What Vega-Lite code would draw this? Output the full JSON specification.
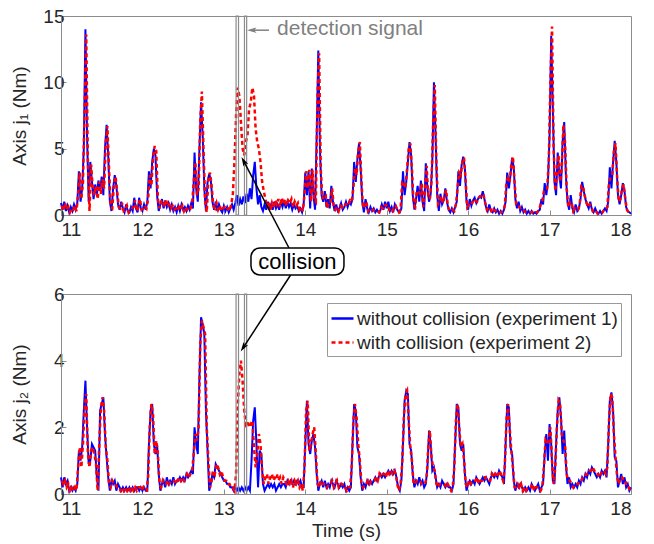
{
"$schema": "https://vega.github.io/schema/vega-lite/v6.json",
"background": "white",
"padding": {"left": 9, "top": 6, "right": 5, "bottom": 5},
"bounds": "flush",
"spacing": 79,
"config": {
  "font": "Liberation Sans",
  "view": {"stroke": "#8c8c8c", "strokeWidth": 1},
  "axis": {"grid": false, "domainColor": "#8c8c8c", "tickColor": "#8c8c8c", "tickSize": -5, "labelFontSize": 19, "labelColor": "#262626", "titleFontSize": 19, "titleFontWeight": "normal", "titleColor": "#262626", "labelFont": "Liberation Sans", "titleFont": "Liberation Sans"},
  "axisX": {"labelPadding": 10, "titlePadding": 3, "format": "d"},
  "axisY": {"labelPadding": 2, "format": "d"}
},
"datasets": {
"j1w": [{"t":11.00,"v":0.9},{"t":11.02,"v":0.4},{"t":11.04,"v":1.0},{"t":11.06,"v":0.3},{"t":11.08,"v":0.7},{"t":11.10,"v":0.2},{"t":11.12,"v":0.6},{"t":11.14,"v":0.3},{"t":11.16,"v":0.8},{"t":11.18,"v":0.4},{"t":11.20,"v":0.9},{"t":11.22,"v":3.3},{"t":11.24,"v":1.0},{"t":11.26,"v":2.0},{"t":11.28,"v":5.0},{"t":11.30,"v":14.0},{"t":11.32,"v":6.0},{"t":11.34,"v":1.0},{"t":11.36,"v":4.0},{"t":11.38,"v":2.5},{"t":11.40,"v":1.2},{"t":11.42,"v":2.3},{"t":11.44,"v":1.5},{"t":11.46,"v":2.6},{"t":11.48,"v":1.8},{"t":11.50,"v":2.9},{"t":11.52,"v":1.5},{"t":11.54,"v":5.0},{"t":11.56,"v":6.8},{"t":11.58,"v":4.5},{"t":11.60,"v":1.0},{"t":11.62,"v":0.3},{"t":11.64,"v":2.0},{"t":11.66,"v":3.0},{"t":11.68,"v":2.2},{"t":11.70,"v":0.8},{"t":11.72,"v":0.4},{"t":11.74,"v":1.0},{"t":11.76,"v":0.5},{"t":11.78,"v":0.2},{"t":11.80,"v":0.8},{"t":11.82,"v":0.3},{"t":11.84,"v":0.2},{"t":11.86,"v":0.6},{"t":11.88,"v":0.3},{"t":11.90,"v":1.3},{"t":11.92,"v":0.5},{"t":11.94,"v":0.2},{"t":11.96,"v":1.3},{"t":11.98,"v":0.5},{"t":12.00,"v":0.3},{"t":12.02,"v":0.8},{"t":12.04,"v":0.4},{"t":12.06,"v":1.0},{"t":12.08,"v":3.3},{"t":12.10,"v":2.0},{"t":12.12,"v":4.0},{"t":12.14,"v":5.0},{"t":12.16,"v":4.5},{"t":12.18,"v":1.5},{"t":12.20,"v":0.3},{"t":12.22,"v":0.8},{"t":12.24,"v":1.2},{"t":12.26,"v":0.5},{"t":12.28,"v":1.1},{"t":12.30,"v":0.6},{"t":12.32,"v":0.9},{"t":12.34,"v":0.4},{"t":12.36,"v":0.8},{"t":12.38,"v":0.3},{"t":12.40,"v":0.6},{"t":12.42,"v":0.2},{"t":12.44,"v":0.7},{"t":12.46,"v":0.3},{"t":12.48,"v":0.8},{"t":12.50,"v":0.4},{"t":12.52,"v":0.6},{"t":12.54,"v":0.3},{"t":12.56,"v":0.7},{"t":12.58,"v":0.4},{"t":12.60,"v":0.9},{"t":12.62,"v":0.5},{"t":12.64,"v":4.7},{"t":12.66,"v":2.0},{"t":12.68,"v":1.0},{"t":12.70,"v":5.0},{"t":12.72,"v":8.5},{"t":12.74,"v":6.0},{"t":12.76,"v":2.0},{"t":12.78,"v":0.3},{"t":12.80,"v":2.5},{"t":12.82,"v":3.1},{"t":12.84,"v":2.6},{"t":12.86,"v":1.0},{"t":12.88,"v":0.4},{"t":12.90,"v":1.0},{"t":12.92,"v":0.3},{"t":12.94,"v":0.8},{"t":12.96,"v":0.4},{"t":12.98,"v":0.2},{"t":13.00,"v":0.7},{"t":13.02,"v":0.3},{"t":13.04,"v":0.6},{"t":13.06,"v":0.2},{"t":13.08,"v":0.5},{"t":13.10,"v":0.8},{"t":13.12,"v":0.4},{"t":13.14,"v":0.9},{"t":13.16,"v":1.5},{"t":13.18,"v":0.7},{"t":13.20,"v":1.2},{"t":13.22,"v":0.8},{"t":13.24,"v":1.4},{"t":13.26,"v":0.9},{"t":13.28,"v":1.6},{"t":13.30,"v":1.0},{"t":13.32,"v":2.0},{"t":13.34,"v":1.2},{"t":13.36,"v":3.0},{"t":13.38,"v":4.0},{"t":13.40,"v":2.0},{"t":13.42,"v":0.8},{"t":13.44,"v":1.5},{"t":13.46,"v":0.6},{"t":13.48,"v":0.3},{"t":13.50,"v":0.8},{"t":13.52,"v":0.4},{"t":13.54,"v":1.0},{"t":13.56,"v":0.5},{"t":13.58,"v":0.8},{"t":13.60,"v":0.4},{"t":13.62,"v":1.0},{"t":13.64,"v":0.5},{"t":13.66,"v":0.8},{"t":13.68,"v":0.4},{"t":13.70,"v":1.0},{"t":13.72,"v":0.6},{"t":13.74,"v":1.1},{"t":13.76,"v":0.5},{"t":13.78,"v":1.0},{"t":13.80,"v":0.6},{"t":13.82,"v":0.9},{"t":13.84,"v":0.4},{"t":13.86,"v":0.8},{"t":13.88,"v":0.5},{"t":13.90,"v":0.7},{"t":13.92,"v":0.3},{"t":13.94,"v":0.5},{"t":13.96,"v":0.2},{"t":13.98,"v":0.8},{"t":14.00,"v":3.2},{"t":14.02,"v":1.5},{"t":14.04,"v":3.3},{"t":14.06,"v":0.5},{"t":14.08,"v":3.5},{"t":14.10,"v":1.5},{"t":14.12,"v":0.4},{"t":14.14,"v":6.0},{"t":14.16,"v":12.4},{"t":14.18,"v":5.0},{"t":14.20,"v":1.5},{"t":14.22,"v":1.0},{"t":14.24,"v":1.8},{"t":14.26,"v":0.6},{"t":14.28,"v":1.2},{"t":14.30,"v":0.5},{"t":14.32,"v":2.2},{"t":14.34,"v":1.0},{"t":14.36,"v":0.3},{"t":14.38,"v":0.8},{"t":14.40,"v":0.3},{"t":14.42,"v":0.5},{"t":14.44,"v":0.9},{"t":14.46,"v":0.4},{"t":14.48,"v":0.6},{"t":14.50,"v":1.0},{"t":14.52,"v":0.6},{"t":14.54,"v":1.0},{"t":14.56,"v":0.8},{"t":14.58,"v":1.2},{"t":14.60,"v":4.0},{"t":14.62,"v":2.5},{"t":14.64,"v":4.2},{"t":14.66,"v":5.4},{"t":14.68,"v":3.5},{"t":14.70,"v":1.0},{"t":14.72,"v":0.2},{"t":14.74,"v":1.2},{"t":14.76,"v":0.5},{"t":14.78,"v":0.2},{"t":14.80,"v":0.6},{"t":14.82,"v":0.3},{"t":14.84,"v":0.5},{"t":14.86,"v":0.2},{"t":14.88,"v":0.4},{"t":14.90,"v":0.2},{"t":14.92,"v":0.3},{"t":14.94,"v":0.8},{"t":14.96,"v":0.4},{"t":14.98,"v":1.0},{"t":15.00,"v":0.5},{"t":15.02,"v":1.0},{"t":15.04,"v":0.3},{"t":15.06,"v":0.6},{"t":15.08,"v":0.2},{"t":15.10,"v":0.8},{"t":15.12,"v":0.5},{"t":15.14,"v":0.3},{"t":15.16,"v":0.2},{"t":15.18,"v":0.5},{"t":15.20,"v":3.3},{"t":15.22,"v":1.5},{"t":15.24,"v":2.5},{"t":15.26,"v":4.0},{"t":15.28,"v":5.5},{"t":15.30,"v":4.5},{"t":15.32,"v":1.5},{"t":15.34,"v":0.4},{"t":15.36,"v":1.2},{"t":15.38,"v":2.2},{"t":15.40,"v":1.0},{"t":15.42,"v":2.6},{"t":15.44,"v":1.0},{"t":15.46,"v":0.3},{"t":15.48,"v":3.9},{"t":15.50,"v":2.0},{"t":15.52,"v":1.0},{"t":15.54,"v":1.6},{"t":15.56,"v":4.0},{"t":15.58,"v":10.0},{"t":15.60,"v":6.0},{"t":15.62,"v":1.5},{"t":15.64,"v":0.3},{"t":15.66,"v":1.6},{"t":15.68,"v":0.8},{"t":15.70,"v":1.1},{"t":15.72,"v":2.0},{"t":15.74,"v":1.0},{"t":15.76,"v":0.4},{"t":15.78,"v":0.2},{"t":15.80,"v":0.5},{"t":15.82,"v":0.2},{"t":15.84,"v":0.6},{"t":15.86,"v":1.0},{"t":15.88,"v":3.3},{"t":15.90,"v":2.2},{"t":15.92,"v":3.8},{"t":15.94,"v":4.4},{"t":15.96,"v":3.5},{"t":15.98,"v":1.0},{"t":16.00,"v":0.4},{"t":16.02,"v":1.2},{"t":16.04,"v":0.7},{"t":16.06,"v":1.1},{"t":16.08,"v":1.3},{"t":16.10,"v":0.9},{"t":16.12,"v":1.2},{"t":16.14,"v":1.4},{"t":16.16,"v":1.3},{"t":16.18,"v":1.8},{"t":16.20,"v":1.2},{"t":16.22,"v":0.6},{"t":16.24,"v":0.3},{"t":16.26,"v":0.8},{"t":16.28,"v":0.3},{"t":16.30,"v":0.2},{"t":16.32,"v":0.5},{"t":16.34,"v":0.2},{"t":16.36,"v":0.4},{"t":16.38,"v":0.1},{"t":16.40,"v":0.3},{"t":16.42,"v":0.1},{"t":16.44,"v":0.4},{"t":16.46,"v":1.0},{"t":16.48,"v":3.2},{"t":16.50,"v":2.0},{"t":16.52,"v":3.0},{"t":16.54,"v":4.3},{"t":16.56,"v":3.6},{"t":16.58,"v":1.2},{"t":16.60,"v":0.5},{"t":16.62,"v":1.0},{"t":16.64,"v":0.3},{"t":16.66,"v":0.6},{"t":16.68,"v":0.2},{"t":16.70,"v":0.4},{"t":16.72,"v":0.1},{"t":16.74,"v":0.3},{"t":16.76,"v":0.1},{"t":16.78,"v":0.3},{"t":16.80,"v":0.1},{"t":16.82,"v":0.2},{"t":16.84,"v":0.1},{"t":16.86,"v":0.3},{"t":16.88,"v":0.4},{"t":16.90,"v":1.2},{"t":16.92,"v":0.8},{"t":16.94,"v":2.4},{"t":16.96,"v":1.5},{"t":16.98,"v":2.5},{"t":17.00,"v":6.0},{"t":17.02,"v":13.5},{"t":17.04,"v":8.0},{"t":17.06,"v":2.5},{"t":17.08,"v":1.5},{"t":17.10,"v":4.7},{"t":17.12,"v":3.0},{"t":17.14,"v":2.0},{"t":17.16,"v":5.5},{"t":17.18,"v":7.0},{"t":17.20,"v":3.0},{"t":17.22,"v":1.0},{"t":17.24,"v":0.4},{"t":17.26,"v":1.5},{"t":17.28,"v":0.5},{"t":17.30,"v":0.2},{"t":17.32,"v":0.8},{"t":17.34,"v":0.3},{"t":17.36,"v":0.5},{"t":17.38,"v":1.2},{"t":17.40,"v":2.5},{"t":17.42,"v":1.8},{"t":17.44,"v":1.2},{"t":17.46,"v":0.8},{"t":17.48,"v":0.5},{"t":17.50,"v":1.0},{"t":17.52,"v":0.4},{"t":17.54,"v":0.2},{"t":17.56,"v":0.5},{"t":17.58,"v":0.2},{"t":17.60,"v":0.1},{"t":17.62,"v":0.3},{"t":17.64,"v":0.1},{"t":17.66,"v":0.3},{"t":17.68,"v":0.5},{"t":17.70,"v":0.3},{"t":17.72,"v":1.0},{"t":17.74,"v":3.6},{"t":17.76,"v":2.0},{"t":17.78,"v":4.0},{"t":17.80,"v":5.6},{"t":17.82,"v":4.0},{"t":17.84,"v":1.5},{"t":17.86,"v":0.8},{"t":17.88,"v":1.5},{"t":17.90,"v":2.4},{"t":17.92,"v":1.8},{"t":17.94,"v":0.6},{"t":17.96,"v":0.3},{"t":17.98,"v":0.2},{"t":18.00,"v":0.1}],
"j1c": [{"t":11.01,"v":0.7},{"t":11.03,"v":0.3},{"t":11.05,"v":0.9},{"t":11.07,"v":0.4},{"t":11.09,"v":0.6},{"t":11.11,"v":0.2},{"t":11.13,"v":0.5},{"t":11.15,"v":0.4},{"t":11.17,"v":0.7},{"t":11.19,"v":0.3},{"t":11.21,"v":1.5},{"t":11.23,"v":3.2},{"t":11.25,"v":1.2},{"t":11.27,"v":2.5},{"t":11.29,"v":8.0},{"t":11.31,"v":13.6},{"t":11.33,"v":4.0},{"t":11.35,"v":0.3},{"t":11.37,"v":3.8},{"t":11.39,"v":2.0},{"t":11.41,"v":1.5},{"t":11.43,"v":2.2},{"t":11.45,"v":1.2},{"t":11.47,"v":2.5},{"t":11.49,"v":1.6},{"t":11.51,"v":2.7},{"t":11.53,"v":2.0},{"t":11.55,"v":5.5},{"t":11.57,"v":6.7},{"t":11.59,"v":3.5},{"t":11.61,"v":0.6},{"t":11.63,"v":0.5},{"t":11.65,"v":2.3},{"t":11.67,"v":2.9},{"t":11.69,"v":1.8},{"t":11.71,"v":0.6},{"t":11.73,"v":0.5},{"t":11.75,"v":0.9},{"t":11.77,"v":0.3},{"t":11.79,"v":0.4},{"t":11.81,"v":0.7},{"t":11.83,"v":0.2},{"t":11.85,"v":0.4},{"t":11.87,"v":0.5},{"t":11.89,"v":0.6},{"t":11.91,"v":1.1},{"t":11.93,"v":0.3},{"t":11.95,"v":0.6},{"t":11.97,"v":1.2},{"t":11.99,"v":0.4},{"t":12.01,"v":0.5},{"t":12.03,"v":0.7},{"t":12.05,"v":0.5},{"t":12.07,"v":1.2},{"t":12.09,"v":3.0},{"t":12.11,"v":2.2},{"t":12.13,"v":4.2},{"t":12.15,"v":5.2},{"t":12.17,"v":4.8},{"t":12.19,"v":1.2},{"t":12.21,"v":0.5},{"t":12.23,"v":1.0},{"t":12.25,"v":1.1},{"t":12.27,"v":0.6},{"t":12.29,"v":1.2},{"t":12.31,"v":0.6},{"t":12.33,"v":0.8},{"t":12.35,"v":0.5},{"t":12.37,"v":0.7},{"t":12.39,"v":0.4},{"t":12.41,"v":0.5},{"t":12.43,"v":0.3},{"t":12.45,"v":0.6},{"t":12.47,"v":0.4},{"t":12.49,"v":0.7},{"t":12.51,"v":0.3},{"t":12.53,"v":0.6},{"t":12.55,"v":0.4},{"t":12.57,"v":0.6},{"t":12.59,"v":0.5},{"t":12.61,"v":0.8},{"t":12.63,"v":2.5},{"t":12.65,"v":4.0},{"t":12.67,"v":1.5},{"t":12.69,"v":2.0},{"t":12.71,"v":7.0},{"t":12.73,"v":9.3},{"t":12.75,"v":5.0},{"t":12.77,"v":1.0},{"t":12.79,"v":0.2},{"t":12.81,"v":2.8},{"t":12.83,"v":3.2},{"t":12.85,"v":2.2},{"t":12.87,"v":0.7},{"t":12.89,"v":0.5},{"t":12.91,"v":0.9},{"t":12.93,"v":0.4},{"t":12.95,"v":0.7},{"t":12.97,"v":0.3},{"t":12.99,"v":0.5},{"t":13.01,"v":0.6},{"t":13.03,"v":0.4},{"t":13.05,"v":0.5},{"t":13.07,"v":0.3},{"t":13.09,"v":0.8},{"t":13.11,"v":1.5},{"t":13.13,"v":4.0},{"t":13.15,"v":7.5},{"t":13.17,"v":9.6},{"t":13.19,"v":9.0},{"t":13.21,"v":7.0},{"t":13.23,"v":5.0},{"t":13.25,"v":4.5},{"t":13.27,"v":5.5},{"t":13.29,"v":6.0},{"t":13.31,"v":8.0},{"t":13.33,"v":8.5},{"t":13.35,"v":9.6},{"t":13.37,"v":9.0},{"t":13.39,"v":6.5},{"t":13.41,"v":5.5},{"t":13.43,"v":5.0},{"t":13.45,"v":4.0},{"t":13.47,"v":2.5},{"t":13.49,"v":1.8},{"t":13.51,"v":1.2},{"t":13.53,"v":0.6},{"t":13.55,"v":1.0},{"t":13.57,"v":0.4},{"t":13.59,"v":0.9},{"t":13.61,"v":0.5},{"t":13.63,"v":1.1},{"t":13.65,"v":0.8},{"t":13.67,"v":1.2},{"t":13.69,"v":0.6},{"t":13.71,"v":1.3},{"t":13.73,"v":0.8},{"t":13.75,"v":1.2},{"t":13.77,"v":0.7},{"t":13.79,"v":1.1},{"t":13.81,"v":0.9},{"t":13.83,"v":1.2},{"t":13.85,"v":0.6},{"t":13.87,"v":1.0},{"t":13.89,"v":0.7},{"t":13.91,"v":0.9},{"t":13.93,"v":0.4},{"t":13.95,"v":0.6},{"t":13.97,"v":0.3},{"t":13.99,"v":1.5},{"t":14.01,"v":3.3},{"t":14.03,"v":2.0},{"t":14.05,"v":3.4},{"t":14.07,"v":1.0},{"t":14.09,"v":3.4},{"t":14.11,"v":1.2},{"t":14.13,"v":1.0},{"t":14.15,"v":9.0},{"t":14.17,"v":12.2},{"t":14.19,"v":3.5},{"t":14.21,"v":1.2},{"t":14.23,"v":1.5},{"t":14.25,"v":1.5},{"t":14.27,"v":0.5},{"t":14.29,"v":1.0},{"t":14.31,"v":1.0},{"t":14.33,"v":2.0},{"t":14.35,"v":0.6},{"t":14.37,"v":0.4},{"t":14.39,"v":0.6},{"t":14.41,"v":0.3},{"t":14.43,"v":0.7},{"t":14.45,"v":0.6},{"t":14.47,"v":0.5},{"t":14.49,"v":0.8},{"t":14.51,"v":0.8},{"t":14.53,"v":0.7},{"t":14.55,"v":1.1},{"t":14.57,"v":1.0},{"t":14.59,"v":2.0},{"t":14.61,"v":3.5},{"t":14.63,"v":3.0},{"t":14.65,"v":4.8},{"t":14.67,"v":5.5},{"t":14.69,"v":2.5},{"t":14.71,"v":0.5},{"t":14.73,"v":0.8},{"t":14.75,"v":1.0},{"t":14.77,"v":0.3},{"t":14.79,"v":0.5},{"t":14.81,"v":0.4},{"t":14.83,"v":0.4},{"t":14.85,"v":0.3},{"t":14.87,"v":0.3},{"t":14.89,"v":0.3},{"t":14.91,"v":0.2},{"t":14.93,"v":0.6},{"t":14.95,"v":0.5},{"t":14.97,"v":0.8},{"t":14.99,"v":0.7},{"t":15.01,"v":0.8},{"t":15.03,"v":0.4},{"t":15.05,"v":0.5},{"t":15.07,"v":0.3},{"t":15.09,"v":0.6},{"t":15.11,"v":0.7},{"t":15.13,"v":0.4},{"t":15.15,"v":0.2},{"t":15.17,"v":0.4},{"t":15.19,"v":2.5},{"t":15.21,"v":2.5},{"t":15.23,"v":2.0},{"t":15.25,"v":3.5},{"t":15.27,"v":5.0},{"t":15.29,"v":5.4},{"t":15.31,"v":3.5},{"t":15.33,"v":0.8},{"t":15.35,"v":0.6},{"t":15.37,"v":1.8},{"t":15.39,"v":1.8},{"t":15.41,"v":1.6},{"t":15.43,"v":2.4},{"t":15.45,"v":0.6},{"t":15.47,"v":2.0},{"t":15.49,"v":3.7},{"t":15.51,"v":1.5},{"t":15.53,"v":1.2},{"t":15.55,"v":2.5},{"t":15.57,"v":7.0},{"t":15.59,"v":9.8},{"t":15.61,"v":4.0},{"t":15.63,"v":0.8},{"t":15.65,"v":1.0},{"t":15.67,"v":1.4},{"t":15.69,"v":0.9},{"t":15.71,"v":1.5},{"t":15.73,"v":1.9},{"t":15.75,"v":0.7},{"t":15.77,"v":0.3},{"t":15.79,"v":0.3},{"t":15.81,"v":0.4},{"t":15.83,"v":0.3},{"t":15.85,"v":0.8},{"t":15.87,"v":2.0},{"t":15.89,"v":3.2},{"t":15.91,"v":3.0},{"t":15.93,"v":4.0},{"t":15.95,"v":4.3},{"t":15.97,"v":2.5},{"t":15.99,"v":0.6},{"t":16.01,"v":0.8},{"t":16.03,"v":1.0},{"t":16.05,"v":0.9},{"t":16.07,"v":1.2},{"t":16.09,"v":1.1},{"t":16.11,"v":1.0},{"t":16.13,"v":1.3},{"t":16.15,"v":1.4},{"t":16.17,"v":1.6},{"t":16.19,"v":1.5},{"t":16.21,"v":0.9},{"t":16.23,"v":0.4},{"t":16.25,"v":0.6},{"t":16.27,"v":0.5},{"t":16.29,"v":0.2},{"t":16.31,"v":0.4},{"t":16.33,"v":0.3},{"t":16.35,"v":0.3},{"t":16.37,"v":0.2},{"t":16.39,"v":0.2},{"t":16.41,"v":0.2},{"t":16.43,"v":0.3},{"t":16.45,"v":0.7},{"t":16.47,"v":2.5},{"t":16.49,"v":2.8},{"t":16.51,"v":2.5},{"t":16.53,"v":3.8},{"t":16.55,"v":4.4},{"t":16.57,"v":2.5},{"t":16.59,"v":0.8},{"t":16.61,"v":0.8},{"t":16.63,"v":0.6},{"t":16.65,"v":0.4},{"t":16.67,"v":0.4},{"t":16.69,"v":0.3},{"t":16.71,"v":0.2},{"t":16.73,"v":0.2},{"t":16.75,"v":0.2},{"t":16.77,"v":0.2},{"t":16.79,"v":0.2},{"t":16.81,"v":0.1},{"t":16.83,"v":0.2},{"t":16.85,"v":0.2},{"t":16.87,"v":0.4},{"t":16.89,"v":0.8},{"t":16.91,"v":1.0},{"t":16.93,"v":1.8},{"t":16.95,"v":2.0},{"t":16.97,"v":2.0},{"t":16.99,"v":4.0},{"t":17.01,"v":10.0},{"t":17.03,"v":14.2},{"t":17.05,"v":5.0},{"t":17.07,"v":1.8},{"t":17.09,"v":3.0},{"t":17.11,"v":4.5},{"t":17.13,"v":2.5},{"t":17.15,"v":3.5},{"t":17.17,"v":6.8},{"t":17.19,"v":5.5},{"t":17.21,"v":2.0},{"t":17.23,"v":0.6},{"t":17.25,"v":1.0},{"t":17.27,"v":1.0},{"t":17.29,"v":0.3},{"t":17.31,"v":0.5},{"t":17.33,"v":0.5},{"t":17.35,"v":0.4},{"t":17.37,"v":0.8},{"t":17.39,"v":2.2},{"t":17.41,"v":2.2},{"t":17.43,"v":1.5},{"t":17.45,"v":1.0},{"t":17.47,"v":0.6},{"t":17.49,"v":0.8},{"t":17.51,"v":0.7},{"t":17.53,"v":0.3},{"t":17.55,"v":0.4},{"t":17.57,"v":0.3},{"t":17.59,"v":0.1},{"t":17.61,"v":0.2},{"t":17.63,"v":0.2},{"t":17.65,"v":0.2},{"t":17.67,"v":0.4},{"t":17.69,"v":0.4},{"t":17.71,"v":0.6},{"t":17.73,"v":2.5},{"t":17.75,"v":2.8},{"t":17.77,"v":3.0},{"t":17.79,"v":4.8},{"t":17.81,"v":5.4},{"t":17.83,"v":2.8},{"t":17.85,"v":1.0},{"t":17.87,"v":1.2},{"t":17.89,"v":2.0},{"t":17.91,"v":2.3},{"t":17.93,"v":1.2},{"t":17.95,"v":0.4},{"t":17.97,"v":0.2},{"t":17.99,"v":0.1}],
"j2w": [{"t":11.00,"v":0.5},{"t":11.02,"v":0.2},{"t":11.04,"v":0.5},{"t":11.06,"v":0.3},{"t":11.08,"v":0.4},{"t":11.10,"v":0.1},{"t":11.12,"v":0.2},{"t":11.14,"v":0.1},{"t":11.16,"v":0.2},{"t":11.18,"v":0.1},{"t":11.20,"v":0.3},{"t":11.22,"v":1.3},{"t":11.24,"v":1.0},{"t":11.26,"v":1.4},{"t":11.28,"v":2.5},{"t":11.30,"v":3.4},{"t":11.32,"v":2.0},{"t":11.34,"v":0.9},{"t":11.36,"v":1.0},{"t":11.38,"v":1.5},{"t":11.40,"v":1.4},{"t":11.42,"v":1.3},{"t":11.44,"v":0.5},{"t":11.46,"v":0.1},{"t":11.48,"v":2.5},{"t":11.50,"v":2.7},{"t":11.52,"v":2.9},{"t":11.54,"v":1.8},{"t":11.56,"v":1.1},{"t":11.58,"v":0.5},{"t":11.60,"v":0.1},{"t":11.62,"v":0.4},{"t":11.64,"v":0.3},{"t":11.66,"v":0.4},{"t":11.68,"v":0.1},{"t":11.70,"v":0.3},{"t":11.72,"v":0.2},{"t":11.74,"v":0.1},{"t":11.76,"v":0.2},{"t":11.78,"v":0.1},{"t":11.80,"v":0.2},{"t":11.82,"v":0.1},{"t":11.84,"v":0.2},{"t":11.86,"v":0.1},{"t":11.88,"v":0.2},{"t":11.90,"v":0.1},{"t":11.92,"v":0.2},{"t":11.94,"v":0.2},{"t":11.96,"v":0.1},{"t":11.98,"v":0.2},{"t":12.00,"v":0.1},{"t":12.02,"v":0.2},{"t":12.04,"v":0.1},{"t":12.06,"v":0.1},{"t":12.08,"v":1.5},{"t":12.10,"v":2.5},{"t":12.12,"v":2.7},{"t":12.14,"v":1.5},{"t":12.16,"v":1.2},{"t":12.18,"v":1.5},{"t":12.20,"v":0.6},{"t":12.22,"v":0.1},{"t":12.24,"v":0.3},{"t":12.26,"v":0.4},{"t":12.28,"v":0.2},{"t":12.30,"v":0.5},{"t":12.32,"v":0.3},{"t":12.34,"v":0.4},{"t":12.36,"v":0.3},{"t":12.38,"v":0.5},{"t":12.40,"v":0.3},{"t":12.42,"v":0.4},{"t":12.44,"v":0.4},{"t":12.46,"v":0.5},{"t":12.48,"v":0.4},{"t":12.50,"v":0.5},{"t":12.52,"v":0.4},{"t":12.54,"v":0.6},{"t":12.56,"v":0.5},{"t":12.58,"v":0.6},{"t":12.60,"v":0.7},{"t":12.62,"v":0.6},{"t":12.64,"v":2.0},{"t":12.66,"v":1.5},{"t":12.68,"v":1.2},{"t":12.70,"v":3.5},{"t":12.72,"v":5.3},{"t":12.74,"v":5.1},{"t":12.76,"v":4.8},{"t":12.78,"v":2.5},{"t":12.80,"v":1.3},{"t":12.82,"v":0.1},{"t":12.84,"v":0.3},{"t":12.86,"v":0.6},{"t":12.88,"v":0.5},{"t":12.90,"v":0.9},{"t":12.92,"v":0.8},{"t":12.94,"v":0.7},{"t":12.96,"v":0.6},{"t":12.98,"v":0.5},{"t":13.00,"v":0.4},{"t":13.02,"v":0.4},{"t":13.04,"v":0.3},{"t":13.06,"v":0.3},{"t":13.08,"v":0.2},{"t":13.10,"v":0.2},{"t":13.12,"v":0.1},{"t":13.14,"v":0.2},{"t":13.16,"v":0.1},{"t":13.18,"v":0.2},{"t":13.20,"v":0.1},{"t":13.22,"v":0.2},{"t":13.24,"v":0.1},{"t":13.26,"v":0.2},{"t":13.28,"v":0.1},{"t":13.30,"v":0.2},{"t":13.32,"v":0.1},{"t":13.34,"v":1.0},{"t":13.36,"v":2.2},{"t":13.38,"v":2.6},{"t":13.40,"v":1.5},{"t":13.42,"v":0.2},{"t":13.44,"v":1.3},{"t":13.46,"v":1.2},{"t":13.48,"v":0.3},{"t":13.50,"v":0.1},{"t":13.52,"v":0.2},{"t":13.54,"v":0.3},{"t":13.56,"v":0.2},{"t":13.58,"v":0.3},{"t":13.60,"v":0.2},{"t":13.62,"v":0.3},{"t":13.64,"v":0.1},{"t":13.66,"v":0.2},{"t":13.68,"v":0.3},{"t":13.70,"v":0.2},{"t":13.72,"v":0.3},{"t":13.74,"v":0.3},{"t":13.76,"v":0.2},{"t":13.78,"v":0.4},{"t":13.80,"v":0.3},{"t":13.82,"v":0.4},{"t":13.84,"v":0.3},{"t":13.86,"v":0.4},{"t":13.88,"v":0.3},{"t":13.90,"v":0.4},{"t":13.92,"v":0.3},{"t":13.94,"v":0.4},{"t":13.96,"v":0.2},{"t":13.98,"v":0.2},{"t":14.00,"v":1.5},{"t":14.02,"v":2.8},{"t":14.04,"v":1.5},{"t":14.06,"v":1.2},{"t":14.08,"v":1.6},{"t":14.10,"v":1.8},{"t":14.12,"v":1.4},{"t":14.14,"v":0.6},{"t":14.16,"v":0.1},{"t":14.18,"v":0.3},{"t":14.20,"v":0.4},{"t":14.22,"v":0.2},{"t":14.24,"v":0.4},{"t":14.26,"v":0.2},{"t":14.28,"v":0.3},{"t":14.30,"v":0.2},{"t":14.32,"v":0.4},{"t":14.34,"v":0.3},{"t":14.36,"v":0.2},{"t":14.38,"v":0.4},{"t":14.40,"v":0.3},{"t":14.42,"v":0.2},{"t":14.44,"v":0.3},{"t":14.46,"v":0.2},{"t":14.48,"v":0.3},{"t":14.50,"v":0.1},{"t":14.52,"v":0.2},{"t":14.54,"v":0.1},{"t":14.56,"v":0.2},{"t":14.58,"v":1.5},{"t":14.60,"v":2.7},{"t":14.62,"v":2.5},{"t":14.64,"v":1.4},{"t":14.66,"v":1.2},{"t":14.68,"v":0.5},{"t":14.70,"v":0.1},{"t":14.72,"v":0.3},{"t":14.74,"v":0.2},{"t":14.76,"v":0.4},{"t":14.78,"v":0.3},{"t":14.80,"v":0.4},{"t":14.82,"v":0.3},{"t":14.84,"v":0.4},{"t":14.86,"v":0.5},{"t":14.88,"v":0.4},{"t":14.90,"v":0.5},{"t":14.92,"v":0.6},{"t":14.94,"v":0.5},{"t":14.96,"v":0.6},{"t":14.98,"v":0.5},{"t":15.00,"v":0.6},{"t":15.02,"v":0.7},{"t":15.04,"v":0.6},{"t":15.06,"v":0.7},{"t":15.08,"v":0.6},{"t":15.10,"v":0.7},{"t":15.12,"v":0.5},{"t":15.14,"v":0.2},{"t":15.16,"v":0.1},{"t":15.18,"v":0.4},{"t":15.20,"v":1.5},{"t":15.22,"v":2.8},{"t":15.24,"v":3.1},{"t":15.26,"v":3.0},{"t":15.28,"v":1.5},{"t":15.30,"v":1.3},{"t":15.32,"v":0.6},{"t":15.34,"v":0.2},{"t":15.36,"v":0.4},{"t":15.38,"v":0.3},{"t":15.40,"v":0.5},{"t":15.42,"v":0.3},{"t":15.44,"v":0.4},{"t":15.46,"v":0.2},{"t":15.48,"v":0.3},{"t":15.50,"v":0.8},{"t":15.52,"v":1.9},{"t":15.54,"v":1.5},{"t":15.56,"v":0.7},{"t":15.58,"v":0.8},{"t":15.60,"v":0.5},{"t":15.62,"v":0.2},{"t":15.64,"v":0.3},{"t":15.66,"v":0.2},{"t":15.68,"v":0.4},{"t":15.70,"v":0.3},{"t":15.72,"v":0.2},{"t":15.74,"v":0.3},{"t":15.76,"v":0.2},{"t":15.78,"v":0.2},{"t":15.80,"v":0.1},{"t":15.82,"v":0.3},{"t":15.84,"v":1.5},{"t":15.86,"v":2.7},{"t":15.88,"v":2.6},{"t":15.90,"v":1.5},{"t":15.92,"v":1.3},{"t":15.94,"v":1.5},{"t":15.96,"v":0.6},{"t":15.98,"v":0.1},{"t":16.00,"v":0.3},{"t":16.02,"v":0.4},{"t":16.04,"v":0.3},{"t":16.06,"v":0.4},{"t":16.08,"v":0.3},{"t":16.10,"v":0.5},{"t":16.12,"v":0.4},{"t":16.14,"v":0.3},{"t":16.16,"v":0.4},{"t":16.18,"v":0.5},{"t":16.20,"v":0.4},{"t":16.22,"v":0.5},{"t":16.24,"v":0.4},{"t":16.26,"v":0.3},{"t":16.28,"v":0.5},{"t":16.30,"v":0.6},{"t":16.32,"v":0.5},{"t":16.34,"v":0.6},{"t":16.36,"v":0.5},{"t":16.38,"v":0.7},{"t":16.40,"v":0.6},{"t":16.42,"v":0.5},{"t":16.44,"v":0.3},{"t":16.46,"v":1.5},{"t":16.48,"v":2.7},{"t":16.50,"v":2.6},{"t":16.52,"v":1.4},{"t":16.54,"v":1.2},{"t":16.56,"v":0.4},{"t":16.58,"v":0.1},{"t":16.60,"v":0.3},{"t":16.62,"v":0.2},{"t":16.64,"v":0.3},{"t":16.66,"v":0.2},{"t":16.68,"v":0.1},{"t":16.70,"v":0.2},{"t":16.72,"v":0.1},{"t":16.74,"v":0.2},{"t":16.76,"v":0.1},{"t":16.78,"v":0.3},{"t":16.80,"v":0.2},{"t":16.82,"v":0.1},{"t":16.84,"v":0.2},{"t":16.86,"v":0.3},{"t":16.88,"v":0.1},{"t":16.90,"v":0.2},{"t":16.92,"v":0.3},{"t":16.94,"v":1.2},{"t":16.96,"v":1.8},{"t":16.98,"v":1.0},{"t":17.00,"v":2.1},{"t":17.02,"v":1.5},{"t":17.04,"v":0.4},{"t":17.06,"v":0.3},{"t":17.08,"v":1.5},{"t":17.10,"v":2.5},{"t":17.12,"v":2.9},{"t":17.14,"v":2.3},{"t":17.16,"v":1.2},{"t":17.18,"v":1.9},{"t":17.20,"v":0.9},{"t":17.22,"v":0.3},{"t":17.24,"v":0.5},{"t":17.26,"v":0.2},{"t":17.28,"v":0.3},{"t":17.30,"v":0.2},{"t":17.32,"v":0.3},{"t":17.34,"v":0.2},{"t":17.36,"v":0.4},{"t":17.38,"v":0.3},{"t":17.40,"v":0.5},{"t":17.42,"v":0.4},{"t":17.44,"v":0.6},{"t":17.46,"v":0.5},{"t":17.48,"v":0.7},{"t":17.50,"v":0.6},{"t":17.52,"v":0.8},{"t":17.54,"v":0.7},{"t":17.56,"v":0.6},{"t":17.58,"v":0.5},{"t":17.60,"v":0.6},{"t":17.62,"v":0.5},{"t":17.64,"v":0.7},{"t":17.66,"v":0.6},{"t":17.68,"v":0.7},{"t":17.70,"v":0.5},{"t":17.72,"v":1.5},{"t":17.74,"v":2.8},{"t":17.76,"v":3.05},{"t":17.78,"v":2.5},{"t":17.80,"v":1.1},{"t":17.82,"v":1.0},{"t":17.84,"v":0.2},{"t":17.86,"v":0.4},{"t":17.88,"v":0.6},{"t":17.90,"v":0.3},{"t":17.92,"v":0.5},{"t":17.94,"v":0.2},{"t":17.96,"v":0.3},{"t":17.98,"v":0.1},{"t":18.00,"v":0.2}],
"j2c": [{"t":11.01,"v":0.4},{"t":11.03,"v":0.3},{"t":11.05,"v":0.4},{"t":11.07,"v":0.2},{"t":11.09,"v":0.3},{"t":11.11,"v":0.1},{"t":11.13,"v":0.2},{"t":11.15,"v":0.1},{"t":11.17,"v":0.2},{"t":11.19,"v":0.1},{"t":11.21,"v":0.8},{"t":11.23,"v":1.4},{"t":11.25,"v":0.8},{"t":11.27,"v":1.5},{"t":11.29,"v":2.6},{"t":11.31,"v":3.0},{"t":11.33,"v":1.2},{"t":11.35,"v":0.8},{"t":11.37,"v":1.3},{"t":11.39,"v":1.4},{"t":11.41,"v":1.2},{"t":11.43,"v":0.9},{"t":11.45,"v":0.1},{"t":11.47,"v":1.5},{"t":11.49,"v":2.6},{"t":11.51,"v":2.9},{"t":11.53,"v":2.5},{"t":11.55,"v":1.4},{"t":11.57,"v":1.0},{"t":11.59,"v":0.3},{"t":11.61,"v":0.2},{"t":11.63,"v":0.4},{"t":11.65,"v":0.3},{"t":11.67,"v":0.3},{"t":11.69,"v":0.2},{"t":11.71,"v":0.2},{"t":11.73,"v":0.1},{"t":11.75,"v":0.2},{"t":11.77,"v":0.1},{"t":11.79,"v":0.2},{"t":11.81,"v":0.1},{"t":11.83,"v":0.2},{"t":11.85,"v":0.1},{"t":11.87,"v":0.2},{"t":11.89,"v":0.1},{"t":11.91,"v":0.2},{"t":11.93,"v":0.1},{"t":11.95,"v":0.2},{"t":11.97,"v":0.2},{"t":11.99,"v":0.1},{"t":12.01,"v":0.2},{"t":12.03,"v":0.1},{"t":12.05,"v":0.1},{"t":12.07,"v":0.5},{"t":12.09,"v":2.0},{"t":12.11,"v":2.7},{"t":12.13,"v":2.4},{"t":12.15,"v":1.2},{"t":12.17,"v":1.6},{"t":12.19,"v":1.2},{"t":12.21,"v":0.3},{"t":12.23,"v":0.2},{"t":12.25,"v":0.4},{"t":12.27,"v":0.3},{"t":12.29,"v":0.3},{"t":12.31,"v":0.4},{"t":12.33,"v":0.3},{"t":12.35,"v":0.4},{"t":12.37,"v":0.4},{"t":12.39,"v":0.4},{"t":12.41,"v":0.3},{"t":12.43,"v":0.4},{"t":12.45,"v":0.5},{"t":12.47,"v":0.4},{"t":12.49,"v":0.5},{"t":12.51,"v":0.4},{"t":12.53,"v":0.5},{"t":12.55,"v":0.6},{"t":12.57,"v":0.5},{"t":12.59,"v":0.6},{"t":12.61,"v":0.7},{"t":12.63,"v":1.2},{"t":12.65,"v":1.8},{"t":12.67,"v":1.6},{"t":12.69,"v":2.0},{"t":12.71,"v":4.5},{"t":12.73,"v":5.2},{"t":12.75,"v":5.0},{"t":12.77,"v":4.8},{"t":12.79,"v":2.0},{"t":12.81,"v":1.0},{"t":12.83,"v":0.2},{"t":12.85,"v":0.4},{"t":12.87,"v":0.7},{"t":12.89,"v":0.6},{"t":12.91,"v":0.9},{"t":12.93,"v":0.8},{"t":12.95,"v":0.6},{"t":12.97,"v":0.7},{"t":12.99,"v":0.5},{"t":13.01,"v":0.4},{"t":13.03,"v":0.4},{"t":13.05,"v":0.3},{"t":13.07,"v":0.3},{"t":13.09,"v":0.2},{"t":13.11,"v":0.2},{"t":13.13,"v":0.1},{"t":13.15,"v":0.6},{"t":13.17,"v":2.6},{"t":13.19,"v":3.6},{"t":13.21,"v":4.0},{"t":13.23,"v":3.4},{"t":13.25,"v":2.5},{"t":13.27,"v":2.1},{"t":13.29,"v":2.2},{"t":13.31,"v":2.0},{"t":13.33,"v":2.1},{"t":13.35,"v":2.2},{"t":13.37,"v":1.4},{"t":13.39,"v":0.8},{"t":13.41,"v":1.2},{"t":13.43,"v":1.8},{"t":13.45,"v":1.5},{"t":13.47,"v":0.7},{"t":13.49,"v":0.3},{"t":13.51,"v":0.5},{"t":13.53,"v":0.6},{"t":13.55,"v":0.3},{"t":13.57,"v":0.5},{"t":13.59,"v":0.6},{"t":13.61,"v":0.4},{"t":13.63,"v":0.5},{"t":13.65,"v":0.6},{"t":13.67,"v":0.4},{"t":13.69,"v":0.5},{"t":13.71,"v":0.3},{"t":13.73,"v":0.5},{"t":13.75,"v":0.4},{"t":13.77,"v":0.3},{"t":13.79,"v":0.4},{"t":13.81,"v":0.3},{"t":13.83,"v":0.4},{"t":13.85,"v":0.2},{"t":13.87,"v":0.4},{"t":13.89,"v":0.3},{"t":13.91,"v":0.4},{"t":13.93,"v":0.2},{"t":13.95,"v":0.3},{"t":13.97,"v":0.1},{"t":13.99,"v":0.8},{"t":14.01,"v":2.5},{"t":14.03,"v":2.8},{"t":14.05,"v":1.3},{"t":14.07,"v":1.5},{"t":14.09,"v":1.8},{"t":14.11,"v":2.0},{"t":14.13,"v":1.2},{"t":14.15,"v":0.3},{"t":14.17,"v":0.2},{"t":14.19,"v":0.4},{"t":14.21,"v":0.3},{"t":14.23,"v":0.3},{"t":14.25,"v":0.3},{"t":14.27,"v":0.2},{"t":14.29,"v":0.3},{"t":14.31,"v":0.3},{"t":14.33,"v":0.4},{"t":14.35,"v":0.2},{"t":14.37,"v":0.3},{"t":14.39,"v":0.4},{"t":14.41,"v":0.2},{"t":14.43,"v":0.3},{"t":14.45,"v":0.3},{"t":14.47,"v":0.2},{"t":14.49,"v":0.2},{"t":14.51,"v":0.1},{"t":14.53,"v":0.2},{"t":14.55,"v":0.2},{"t":14.57,"v":0.8},{"t":14.59,"v":2.2},{"t":14.61,"v":2.7},{"t":14.63,"v":2.3},{"t":14.65,"v":1.5},{"t":14.67,"v":1.0},{"t":14.69,"v":0.3},{"t":14.71,"v":0.2},{"t":14.73,"v":0.3},{"t":14.75,"v":0.3},{"t":14.77,"v":0.4},{"t":14.79,"v":0.3},{"t":14.81,"v":0.4},{"t":14.83,"v":0.4},{"t":14.85,"v":0.4},{"t":14.87,"v":0.5},{"t":14.89,"v":0.4},{"t":14.91,"v":0.6},{"t":14.93,"v":0.5},{"t":14.95,"v":0.6},{"t":14.97,"v":0.6},{"t":14.99,"v":0.5},{"t":15.01,"v":0.7},{"t":15.03,"v":0.6},{"t":15.05,"v":0.7},{"t":15.07,"v":0.6},{"t":15.09,"v":0.7},{"t":15.11,"v":0.6},{"t":15.13,"v":0.3},{"t":15.15,"v":0.1},{"t":15.17,"v":0.3},{"t":15.19,"v":0.9},{"t":15.21,"v":2.3},{"t":15.23,"v":3.0},{"t":15.25,"v":3.1},{"t":15.27,"v":2.2},{"t":15.29,"v":1.4},{"t":15.31,"v":1.0},{"t":15.33,"v":0.3},{"t":15.35,"v":0.3},{"t":15.37,"v":0.4},{"t":15.39,"v":0.4},{"t":15.41,"v":0.4},{"t":15.43,"v":0.3},{"t":15.45,"v":0.3},{"t":15.47,"v":0.3},{"t":15.49,"v":0.5},{"t":15.51,"v":1.4},{"t":15.53,"v":1.9},{"t":15.55,"v":1.1},{"t":15.57,"v":0.8},{"t":15.59,"v":0.7},{"t":15.61,"v":0.3},{"t":15.63,"v":0.2},{"t":15.65,"v":0.3},{"t":15.67,"v":0.3},{"t":15.69,"v":0.3},{"t":15.71,"v":0.3},{"t":15.73,"v":0.2},{"t":15.75,"v":0.3},{"t":15.77,"v":0.2},{"t":15.79,"v":0.1},{"t":15.81,"v":0.2},{"t":15.83,"v":0.8},{"t":15.85,"v":2.2},{"t":15.87,"v":2.7},{"t":15.89,"v":2.0},{"t":15.91,"v":1.4},{"t":15.93,"v":1.5},{"t":15.95,"v":1.0},{"t":15.97,"v":0.3},{"t":15.99,"v":0.2},{"t":16.01,"v":0.4},{"t":16.03,"v":0.3},{"t":16.05,"v":0.4},{"t":16.07,"v":0.4},{"t":16.09,"v":0.4},{"t":16.11,"v":0.5},{"t":16.13,"v":0.3},{"t":16.15,"v":0.4},{"t":16.17,"v":0.4},{"t":16.19,"v":0.5},{"t":16.21,"v":0.5},{"t":16.23,"v":0.4},{"t":16.25,"v":0.4},{"t":16.27,"v":0.4},{"t":16.29,"v":0.6},{"t":16.31,"v":0.5},{"t":16.33,"v":0.6},{"t":16.35,"v":0.5},{"t":16.37,"v":0.6},{"t":16.39,"v":0.7},{"t":16.41,"v":0.5},{"t":16.43,"v":0.4},{"t":16.45,"v":0.8},{"t":16.47,"v":2.2},{"t":16.49,"v":2.7},{"t":16.51,"v":2.0},{"t":16.53,"v":1.3},{"t":16.55,"v":0.8},{"t":16.57,"v":0.2},{"t":16.59,"v":0.2},{"t":16.61,"v":0.3},{"t":16.63,"v":0.2},{"t":16.65,"v":0.3},{"t":16.67,"v":0.1},{"t":16.69,"v":0.2},{"t":16.71,"v":0.1},{"t":16.73,"v":0.2},{"t":16.75,"v":0.2},{"t":16.77,"v":0.2},{"t":16.79,"v":0.3},{"t":16.81,"v":0.1},{"t":16.83,"v":0.2},{"t":16.85,"v":0.2},{"t":16.87,"v":0.2},{"t":16.89,"v":0.1},{"t":16.91,"v":0.2},{"t":16.93,"v":0.8},{"t":16.95,"v":1.6},{"t":16.97,"v":1.5},{"t":16.99,"v":1.6},{"t":17.01,"v":2.0},{"t":17.03,"v":1.0},{"t":17.05,"v":0.3},{"t":17.07,"v":0.8},{"t":17.09,"v":2.0},{"t":17.11,"v":2.8},{"t":17.13,"v":2.7},{"t":17.15,"v":1.8},{"t":17.17,"v":1.6},{"t":17.19,"v":1.5},{"t":17.21,"v":0.6},{"t":17.23,"v":0.4},{"t":17.25,"v":0.4},{"t":17.27,"v":0.3},{"t":17.29,"v":0.2},{"t":17.31,"v":0.3},{"t":17.33,"v":0.3},{"t":17.35,"v":0.3},{"t":17.37,"v":0.4},{"t":17.39,"v":0.4},{"t":17.41,"v":0.5},{"t":17.43,"v":0.5},{"t":17.45,"v":0.6},{"t":17.47,"v":0.6},{"t":17.49,"v":0.7},{"t":17.51,"v":0.7},{"t":17.53,"v":0.8},{"t":17.55,"v":0.7},{"t":17.57,"v":0.6},{"t":17.59,"v":0.6},{"t":17.61,"v":0.5},{"t":17.63,"v":0.6},{"t":17.65,"v":0.7},{"t":17.67,"v":0.7},{"t":17.69,"v":0.6},{"t":17.71,"v":0.8},{"t":17.73,"v":2.2},{"t":17.75,"v":3.0},{"t":17.77,"v":2.9},{"t":17.79,"v":1.8},{"t":17.81,"v":1.1},{"t":17.83,"v":0.5},{"t":17.85,"v":0.3},{"t":17.87,"v":0.5},{"t":17.89,"v":0.5},{"t":17.91,"v":0.4},{"t":17.93,"v":0.4},{"t":17.95,"v":0.2},{"t":17.97,"v":0.2},{"t":17.99,"v":0.1}],
"det": [{"start":13.15,"end":13.18},{"start":13.253,"end":13.28}]
},
"resolve": {"scale": {"color": "independent", "strokeDash": "independent"}},
"vconcat": [
{
  "width": 570, "height": 199,
  "layer": [
    {"data": {"name": "j1w"}, "mark": {"type": "line", "strokeWidth": 2},
     "encoding": {
       "x": {"field": "t", "type": "quantitative", "scale": {"domain": [11, 18], "nice": false}, "axis": {"values": [11,12,13,14,15,16,17,18], "title": null}},
       "y": {"field": "v", "type": "quantitative", "scale": {"domain": [0, 15], "nice": false}, "axis": {"values": [0,5,10,15], "title": "Axis j₁  (Nm)", "titleX": -32, "titleY": 99.5}},
       "color": {"datum": "without collision (experiment 1)", "type": "nominal", "scale": {"domain": ["without collision (experiment 1)", "with collision (experiment 2)"], "range": ["#0000ff", "#ff0000"]}, "legend": null},
       "strokeDash": {"datum": "without collision (experiment 1)", "type": "nominal", "scale": {"domain": ["without collision (experiment 1)", "with collision (experiment 2)"], "range": [[1,0],[4,3]]}, "legend": null}
     }},
    {"data": {"name": "j1c"}, "mark": {"type": "line", "strokeWidth": 2.5},
     "encoding": {
       "x": {"field": "t", "type": "quantitative"},
       "y": {"field": "v", "type": "quantitative"},
       "color": {"datum": "with collision (experiment 2)", "type": "nominal", "legend": null},
       "strokeDash": {"datum": "with collision (experiment 2)", "type": "nominal", "legend": null}
     }},
    {"data": {"name": "det"}, "mark": {"type": "rect", "filled": false, "stroke": "#8c8c8c", "strokeWidth": 1.2},
     "encoding": {"x": {"field": "start", "type": "quantitative"}, "x2": {"field": "end"}}},
    {"data": {"values": [{}]}, "mark": {"type": "rule", "stroke": "#808080", "strokeWidth": 1.5},
     "encoding": {"x": {"datum": 13.34}, "x2": {"datum": 13.554}, "y": {"datum": 13.93}}},
    {"data": {"values": [{}]}, "mark": {"type": "point", "shape": "M0,-1L0.55,0.9L0,0.45L-0.55,0.9Z", "filled": true, "size": 100, "color": "#808080", "opacity": 1, "angle": 270},
     "encoding": {"x": {"datum": 13.346}, "y": {"datum": 13.93}}},
    {"data": {"values": [{}]}, "mark": {"type": "text", "text": "detection signal", "align": "left", "baseline": "middle", "fontSize": 21, "color": "#808080"},
     "encoding": {"x": {"datum": 13.653}, "y": {"datum": 14.0}}}
  ]
},
{
  "width": 570, "height": 200,
  "layer": [
    {"data": {"name": "j2w"}, "mark": {"type": "line", "strokeWidth": 2},
     "encoding": {
       "x": {"field": "t", "type": "quantitative", "scale": {"domain": [11, 18], "nice": false}, "axis": {"values": [11,12,13,14,15,16,17,18], "title": "Time (s)"}},
       "y": {"field": "v", "type": "quantitative", "scale": {"domain": [0, 6], "nice": false}, "axis": {"values": [0,2,4,6], "title": "Axis j₂  (Nm)", "titleX": -32, "titleY": 100}},
       "color": {"datum": "without collision (experiment 1)", "type": "nominal", "scale": {"domain": ["without collision (experiment 1)", "with collision (experiment 2)"], "range": ["#0000ff", "#ff0000"]},
         "legend": {"orient": "none", "legendX": 266, "legendY": 9, "title": null, "symbolType": "stroke", "symbolSize": 484, "symbolStrokeWidth": 2.5, "labelFontSize": 19, "labelFont": "Liberation Sans", "labelColor": "#262626", "strokeColor": "#999999", "fillColor": "white", "padding": 3, "rowPadding": 1, "labelOffset": 2, "labelLimit": 400}},
       "strokeDash": {"datum": "without collision (experiment 1)", "type": "nominal", "scale": {"domain": ["without collision (experiment 1)", "with collision (experiment 2)"], "range": [[1,0],[4,3]]},
         "legend": {"orient": "none", "legendX": 266, "legendY": 9, "title": null, "symbolType": "stroke", "symbolSize": 484, "symbolStrokeWidth": 2.5, "labelFontSize": 19, "labelFont": "Liberation Sans", "labelColor": "#262626", "strokeColor": "#999999", "fillColor": "white", "padding": 3, "rowPadding": 1, "labelOffset": 2, "labelLimit": 400}}
     }},
    {"data": {"name": "j2c"}, "mark": {"type": "line", "strokeWidth": 2.5},
     "encoding": {
       "x": {"field": "t", "type": "quantitative"},
       "y": {"field": "v", "type": "quantitative"},
       "color": {"datum": "with collision (experiment 2)", "type": "nominal"},
       "strokeDash": {"datum": "with collision (experiment 2)", "type": "nominal"}
     }},
    {"data": {"name": "det"}, "mark": {"type": "rect", "filled": false, "stroke": "#8c8c8c", "strokeWidth": 1.2},
     "encoding": {"x": {"field": "start", "type": "quantitative"}, "x2": {"field": "end"}}},
    {"data": {"values": [{}]}, "mark": {"type": "rule", "stroke": "black", "strokeWidth": 1.5},
     "encoding": {"x": {"datum": 13.80}, "x2": {"datum": 13.245}, "y": {"datum": 7.38}, "y2": {"datum": 9.98}}},
    {"data": {"values": [{}]}, "mark": {"type": "rule", "stroke": "black", "strokeWidth": 1.5},
     "encoding": {"x": {"datum": 13.82}, "x2": {"datum": 13.24}, "y": {"datum": 6.57}, "y2": {"datum": 4.40}}},
    {"data": {"values": [{}]}, "mark": {"type": "point", "shape": "M0,-1L0.55,0.9L0,0.45L-0.55,0.9Z", "filled": true, "size": 100, "color": "black", "opacity": 1, "angle": 332.4},
     "encoding": {"x": {"datum": 13.245}, "y": {"datum": 9.98}}},
    {"data": {"values": [{}]}, "mark": {"type": "point", "shape": "M0,-1L0.55,0.9L0,0.45L-0.55,0.9Z", "filled": true, "size": 100, "color": "black", "opacity": 1, "angle": 213.1},
     "encoding": {"x": {"datum": 13.24}, "y": {"datum": 4.40}}},
    {"data": {"values": [{}]}, "mark": {"type": "rect", "cornerRadius": 9, "fill": "white", "stroke": "black", "strokeWidth": 1.5},
     "encoding": {"x": {"datum": 13.333}, "x2": {"datum": 14.475}, "y": {"datum": 6.57}, "y2": {"datum": 7.38}}},
    {"data": {"values": [{}]}, "mark": {"type": "text", "text": "collision", "align": "center", "baseline": "middle", "fontSize": 22, "color": "black"},
     "encoding": {"x": {"datum": 13.904}, "y": {"datum": 6.96}}}
  ]
}
]
}
